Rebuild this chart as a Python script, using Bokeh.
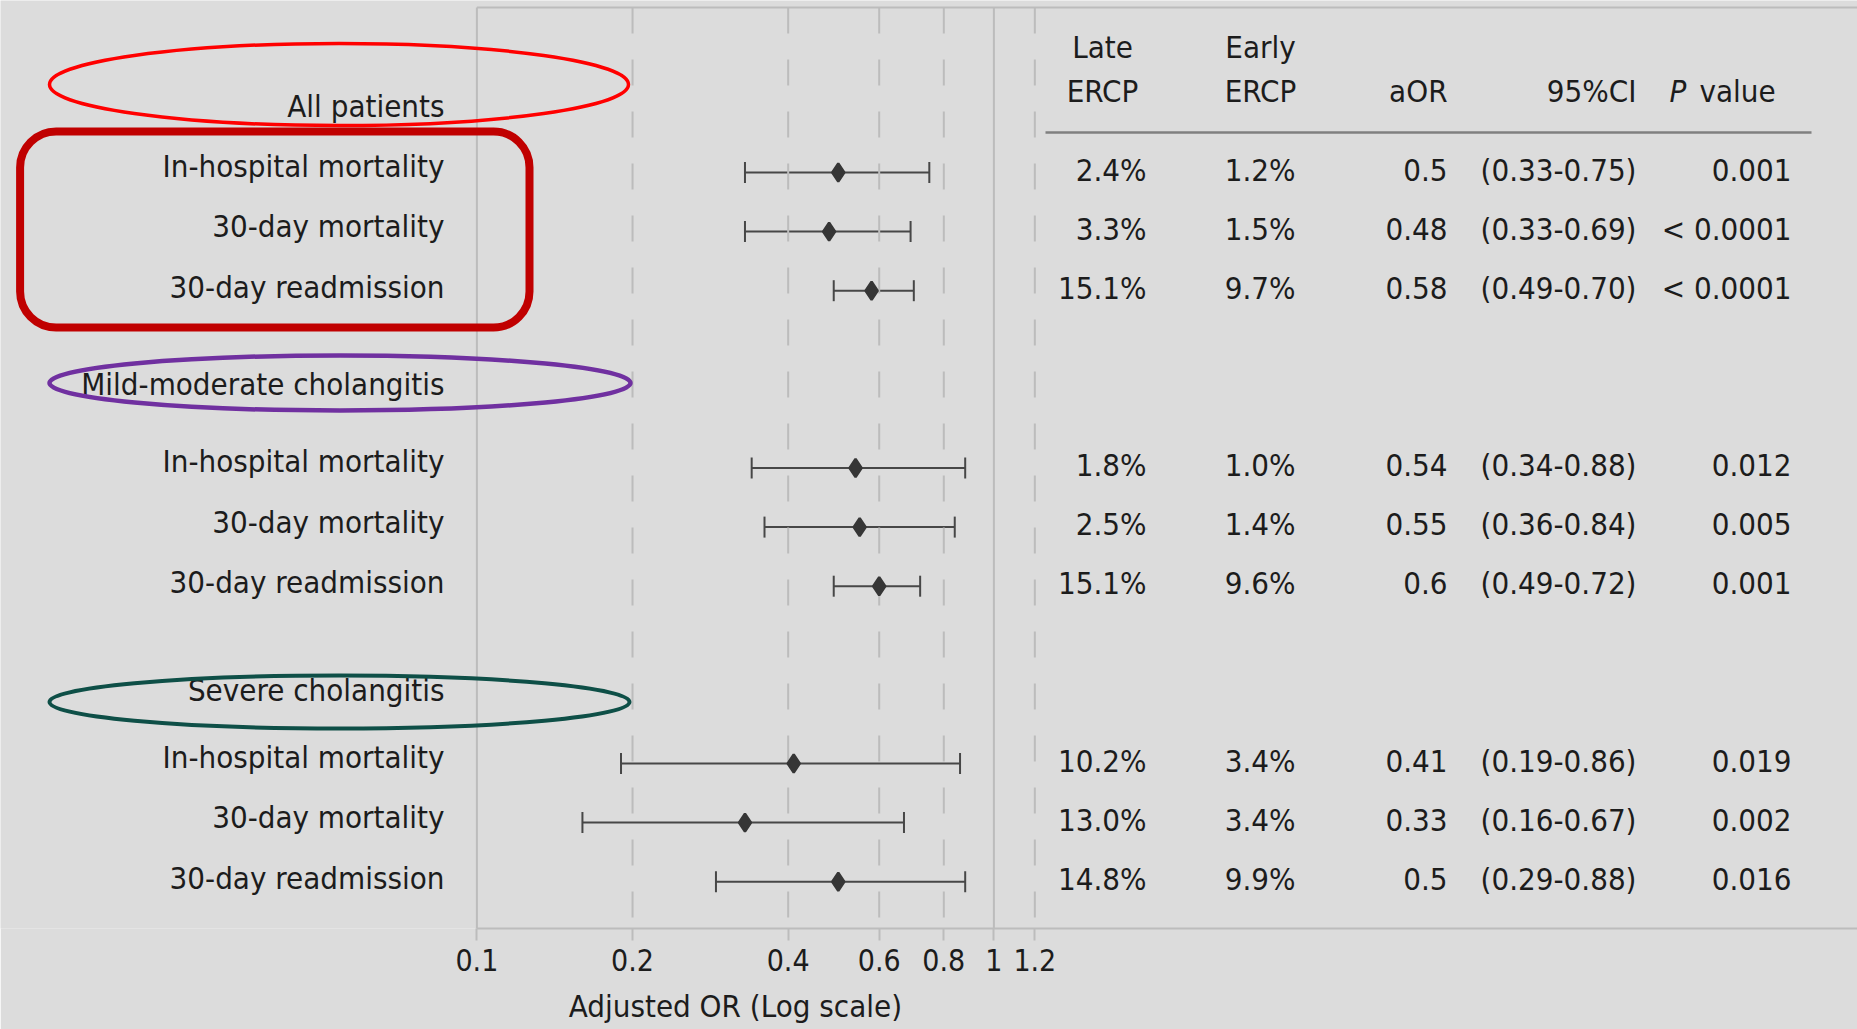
from bokeh.plotting import figure
from bokeh.models import (Range1d, ColumnDataSource, Whisker, TeeHead,
                          FixedTicker, CustomJSTickFormatter, LogAxis)
from bokeh.core.properties import value
from bokeh.embed import file_html
from bokeh.resources import INLINE

# ---------------- data ----------------
groups = ["All patients", "Mild-moderate cholangitis", "Severe cholangitis"]
outcomes = ["In-hospital mortality", "30-day mortality", "30-day readmission"]
late_ercp = ["2.4%", "3.3%", "15.1%", "1.8%", "2.5%", "15.1%", "10.2%", "13.0%", "14.8%"]
early_ercp = ["1.2%", "1.5%", "9.7%", "1.0%", "1.4%", "9.6%", "3.4%", "3.4%", "9.9%"]
aor = [0.5, 0.48, 0.58, 0.54, 0.55, 0.6, 0.41, 0.33, 0.5]
ci_low = [0.33, 0.33, 0.49, 0.34, 0.36, 0.49, 0.19, 0.16, 0.29]
ci_high = [0.75, 0.69, 0.70, 0.88, 0.84, 0.72, 0.86, 0.67, 0.88]
p_values = ["0.001", "< 0.0001", "< 0.0001", "0.012", "0.005", "0.001", "0.019", "0.002", "0.016"]
x_ticks = [0.1, 0.2, 0.4, 0.6, 0.8, 1, 1.2]
table_headers = ["Late\nERCP", "Early\nERCP", "aOR", "95%CI"]
x_title = "Adjusted OR (Log scale)"

# ---------------- layout helpers (pixels -> data) ----------------
FIG_W, FIG_H, AXIS_H = 1857, 1029, 101
X01_PX, PX_DEC = 476.4, 517.0        # x pixel of OR=0.1, pixels per decade
ROW0_PX, ROW_PX = 172.0, 59.1        # y pixel of first row, row pitch
TXT_DY = -12                         # text baseline correction


def xd(px):
    return 0.1 * 10 ** ((px - X01_PX) / PX_DEC)


def yd(px):
    return (px - ROW0_PX) / ROW_PX


FONT = "DejaVu Sans Condensed"
BG = "#DCDCDC"
GRID = "#BCBCBC"
TXT = "#1C1C1C"

p = figure(width=FIG_W, height=FIG_H, x_axis_type="log", x_axis_location=None,
           y_axis_location=None,
           x_range=Range1d(xd(0), xd(FIG_W)),
           y_range=Range1d(yd(FIG_H - AXIS_H), yd(0)),
           output_backend="svg", toolbar_location=None,
           min_border_left=0, min_border_right=0, min_border_top=0,
           min_border_bottom=AXIS_H, background_fill_color=BG,
           border_fill_color=BG, outline_line_color=None)
p.xgrid.visible = False
p.ygrid.visible = False

# x axis (log) with ticks
ax = LogAxis(ticker=FixedTicker(ticks=x_ticks, minor_ticks=[]),
             formatter=CustomJSTickFormatter(code="return tick.toString()"),
             bounds=(0.1, xd(FIG_W)))
ax.axis_line_color = GRID
ax.axis_line_width = 2
ax.major_tick_line_color = GRID
ax.major_tick_line_width = 2
ax.major_tick_in = 0
ax.major_tick_out = 12
ax.minor_tick_line_color = None
ax.major_label_text_font = FONT
ax.major_label_text_font_size = "30px"
ax.major_label_text_color = TXT
ax.major_label_standoff = 8
p.add_layout(ax, "below")

# axis title, centred under the 0.1..1 span (geometric middle of the span)
title_at = (0.1 * 1.0) ** 0.5
ax2 = LogAxis(ticker=FixedTicker(ticks=[title_at], minor_ticks=[]),
              formatter=CustomJSTickFormatter(code="return %r" % x_title),
              bounds=(0.1, 1.0))
ax2.axis_line_color = None
ax2.major_tick_line_color = None
ax2.minor_tick_line_color = None
ax2.major_tick_in = 0
ax2.major_tick_out = 0
ax2.major_label_standoff = 14
ax2.major_label_text_font = FONT
ax2.major_label_text_font_size = "31px"
ax2.major_label_text_color = TXT
p.add_layout(ax2, "below")

ytop = yd(7)
ybot = p.y_range.start

# vertical reference lines
solid = [t for t in x_ticks if t in (0.1, 1)]
dashed = [t for t in x_ticks if t not in (0.1, 1)]
p.segment(x0=solid, x1=solid, y0=[ytop] * len(solid), y1=[ybot] * len(solid),
          line_color=GRID, line_width=2)
p.segment(x0=dashed, x1=dashed, y0=[ytop] * len(dashed), y1=[ybot] * len(dashed),
          line_color=GRID, line_width=2, line_dash="26 26")
# top frame line
p.segment(x0=[0.1], x1=[xd(FIG_W)], y0=[ytop], y1=[ytop],
          line_color=GRID, line_width=2)

# rows
rows = [g * 5 + i for g in range(len(groups)) for i in range(len(outcomes))]
labels = [o for g in groups for o in outcomes]
src = ColumnDataSource(dict(y=rows, aor=aor, lo=ci_low, hi=ci_high, lab=labels,
                            late=late_ercp, early=early_ercp,
                            aor_t=[str(a) for a in aor],
                            ci_t=["(%.2f-%.2f)" % (l, h) for l, h in zip(ci_low, ci_high)],
                            pv=p_values,
                            lab_off=[7 + TXT_DY - 2 + 1.5 * (r % 5) for r in rows]))

# error bars and point estimates
wcol = "#474747"
wh = Whisker(source=src, base="y", lower="lo", upper="hi", dimension="width",
             line_color=wcol, line_width=2,
             lower_head=TeeHead(size=21, line_color=wcol, line_width=2),
             upper_head=TeeHead(size=21, line_color=wcol, line_width=2))
p.add_layout(wh)
p.scatter(x="aor", y="y", source=src, marker="diamond", size=18,
          fill_color="#363636", line_color="#363636", line_width=2.5)

common = dict(text_font=value(FONT), text_font_size=value("31px"), text_color=TXT,
              text_baseline="alphabetic")

# row labels
p.text(x=xd(444), y="y", text="lab", source=src, text_align="right",
       y_offset="lab_off", **common)

# group headers
grp_px = [117, 395, 701]
p.text(x=[xd(444)] * 3, y=[yd(v + TXT_DY) for v in grp_px], text=groups,
       text_align="right", **common)

# table cells
for col, px in [("late", 1146), ("early", 1295), ("aor_t", 1447), ("ci_t", 1636), ("pv", 1791)]:
    p.text(x=xd(px), y="y", text=col, source=src, text_align="right",
           y_offset=9 + TXT_DY, **common)

# table headers
h1 = [t.split("\n")[0] for t in table_headers[:2]]
h2 = [t.split("\n")[-1] for t in table_headers]
p.text(x=[xd(1102), xd(1260)], y=[yd(58 + TXT_DY)] * 2, text=h1, text_align="center", **common)
p.text(x=[xd(1102), xd(1260)], y=[yd(102 + TXT_DY)] * 2, text=h2[:2], text_align="center", **common)
p.text(x=[xd(1447), xd(1636)], y=[yd(102 + TXT_DY)] * 2, text=h2[2:], text_align="right", **common)
p.text(x=[xd(1669)], y=[yd(102 + TXT_DY)], text=["P"], text_align="left",
       text_font_style="italic", **common)
p.text(x=[xd(1699)], y=[yd(102 + TXT_DY)], text=["value"], text_align="left", **common)
p.segment(x0=[xd(1045)], x1=[xd(1811)], y0=[yd(132)], y1=[yd(132)],
          line_color="#808080", line_width=2.5)

# highlight shapes
p.ellipse(x=[xd(338.5)], y=[yd(84)], width=[579], height=[82],
          width_units="screen", height_units="screen",
          fill_color=None, line_color="#FF0000", line_width=3.5)
p.ellipse(x=[xd(339.5)], y=[yd(382.5)], width=[581], height=[55],
          width_units="screen", height_units="screen",
          fill_color=None, line_color="#7030A0", line_width=4.5)
p.ellipse(x=[xd(339)], y=[yd(701.5)], width=[580], height=[53],
          width_units="screen", height_units="screen",
          fill_color=None, line_color="#0E4F47", line_width=4)
p.quad(left=[xd(19.6)], right=[xd(529)], top=[yd(131)], bottom=[yd(327)],
       fill_color=None, line_color="#C00000", line_width=8, border_radius=36)

open("out.html", "w").write(file_html(p, INLINE))
